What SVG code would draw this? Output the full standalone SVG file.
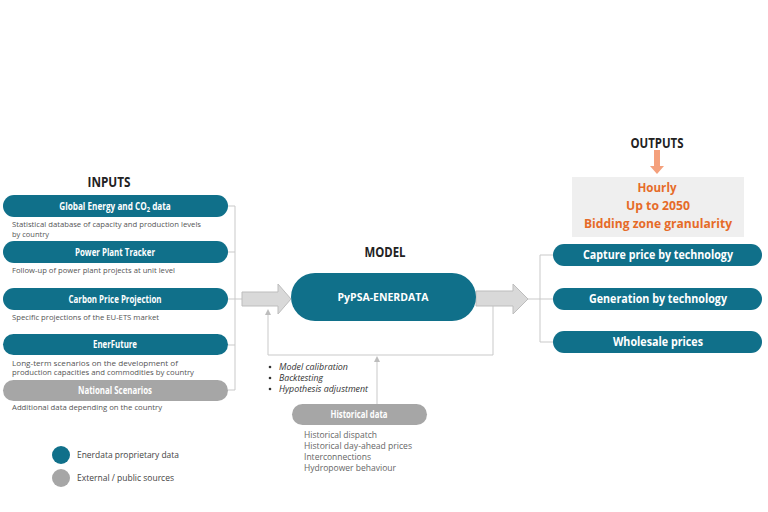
<svg xmlns="http://www.w3.org/2000/svg" width="768" height="512" viewBox="0 0 768 512">
<style>
text{font-family:"Open Sans","Liberation Sans",sans-serif}
.teal{fill:#10708a}
.grey{fill:#a6a6a6}
.pt{fill:#fff;font-weight:700;font-size:10px;text-anchor:middle}
.ot{fill:#fff;font-weight:700;font-size:13px;text-anchor:middle}
.desc{fill:#555;font-size:7.5px}
.h{fill:#222;font-weight:700;font-size:14px;text-anchor:middle}
.or{fill:#e66b28;font-weight:700;font-size:13px;text-anchor:middle}
.bul{fill:#333;font-size:8.5px;font-style:italic}
.hist{fill:#666;font-size:8.5px}
.leg{fill:#444;font-size:8.5px}
.ln{fill:none;stroke:#c9c9c9;stroke-width:1}
.big{fill:#d9d9d9;stroke:#bdbdbd;stroke-width:1}
</style>
<defs>
<marker id="ah" markerWidth="6" markerHeight="6" refX="3" refY="3" orient="auto" markerUnits="userSpaceOnUse">
<path d="M0,0 L6,3 L0,6 z" fill="#bdbdbd"/>
</marker>
</defs>

<rect width="768" height="512" fill="#fff"/>

<text class="h" x="109" y="187" textLength="43" lengthAdjust="spacingAndGlyphs">INPUTS</text>
<text class="h" x="385" y="257" textLength="41" lengthAdjust="spacingAndGlyphs">MODEL</text>
<text class="h" x="657" y="148" textLength="53" lengthAdjust="spacingAndGlyphs">OUTPUTS</text>

<g id="connectors">
<path class="ln" d="M228,206 H235 V390 H228 M228,252 H235 M228,299 H242 M228,345 H235"/>
<path class="ln" d="M528,299 H540 M553,255 H540 V342 H553 M540,299 H553"/>
<path class="ln" d="M493,305 V355 H268 V312" marker-end="url(#ah)"/>
<path class="ln" d="M377,404 V359" marker-end="url(#ah)"/>
<path class="big" d="M242,292 H278 V284 L291,299 L278,314 V306 H242 z"/>
<path class="big" d="M476,291 H513 V284 L528,299 L513,314 V306 H476 z"/>
<path d="M654,150 H660 V166 H664 L657,174 L650,166 H654 z" fill="#f4a07c"/>
</g>

<g id="in-global">
<rect class="teal" x="3" y="195" width="225" height="22" rx="11"/>
<text class="pt" transform="translate(115,210) scale(0.82,1)">Global Energy and CO<tspan font-size="7" dy="2">2</tspan><tspan dy="-2"> data</tspan></text>
<text class="desc" x="12" y="227" textLength="189" lengthAdjust="spacingAndGlyphs">Statistical database of capacity and production levels</text>
<text class="desc" x="12" y="237" textLength="37" lengthAdjust="spacingAndGlyphs">by country</text>
</g>
<g id="in-ppt">
<rect class="teal" x="3" y="241" width="225" height="22" rx="11"/>
<text class="pt" x="115" y="256" textLength="80" lengthAdjust="spacingAndGlyphs">Power Plant Tracker</text>
<text class="desc" x="12" y="273" textLength="163" lengthAdjust="spacingAndGlyphs">Follow-up of power plant projects at unit level</text>
</g>
<g id="in-carbon">
<rect class="teal" x="3" y="288" width="225" height="22" rx="11"/>
<text class="pt" x="115" y="303" textLength="93" lengthAdjust="spacingAndGlyphs">Carbon Price Projection</text>
<text class="desc" x="12" y="320" textLength="147" lengthAdjust="spacingAndGlyphs">Specific projections of the EU-ETS market</text>
</g>
<g id="in-enerfuture">
<rect class="teal" x="3" y="334" width="225" height="21" rx="10.5"/>
<text class="pt" x="115" y="348" textLength="44" lengthAdjust="spacingAndGlyphs">EnerFuture</text>
<text class="desc" x="12" y="365.5" textLength="166" lengthAdjust="spacingAndGlyphs">Long-term scenarios on the development of</text>
<text class="desc" x="12" y="375" textLength="182" lengthAdjust="spacingAndGlyphs">production capacities and commodities by country</text>
</g>
<g id="in-national">
<rect class="grey" x="3" y="380" width="225" height="21" rx="10.5"/>
<text class="pt" x="115" y="394" textLength="74" lengthAdjust="spacingAndGlyphs">National Scenarios</text>
<text class="desc" x="12" y="410" textLength="150" lengthAdjust="spacingAndGlyphs">Additional data depending on the country</text>
</g>

<g id="model">
<rect class="teal" x="291" y="273" width="185" height="48" rx="24"/>
<text class="pt" x="383" y="301" font-size="11.5" textLength="91" lengthAdjust="spacingAndGlyphs">PyPSA-ENERDATA</text>
</g>

<g id="feedback">
<circle cx="270" cy="367" r="1.3" fill="#333"/>
<circle cx="270" cy="378" r="1.3" fill="#333"/>
<circle cx="270" cy="389" r="1.3" fill="#333"/>
<text class="bul" x="279" y="370" textLength="69" lengthAdjust="spacingAndGlyphs">Model calibration</text>
<text class="bul" x="279" y="381" textLength="44" lengthAdjust="spacingAndGlyphs">Backtesting</text>
<text class="bul" x="279" y="392" textLength="89" lengthAdjust="spacingAndGlyphs">Hypothesis adjustment</text>
</g>

<g id="historical">
<rect class="grey" x="292" y="404" width="135" height="21" rx="10.5"/>
<text class="pt" x="359" y="418" textLength="57" lengthAdjust="spacingAndGlyphs">Historical data</text>
<text class="hist" x="304" y="438" textLength="73" lengthAdjust="spacingAndGlyphs">Historical dispatch</text>
<text class="hist" x="304" y="449" textLength="108" lengthAdjust="spacingAndGlyphs">Historical day-ahead prices</text>
<text class="hist" x="304" y="459.5" textLength="67" lengthAdjust="spacingAndGlyphs">Interconnections</text>
<text class="hist" x="304" y="470.5" textLength="92" lengthAdjust="spacingAndGlyphs">Hydropower behaviour</text>
</g>

<g id="out-specs">
<rect x="572" y="177" width="172" height="60" fill="#efefef"/>
<text class="or" x="657" y="192" textLength="39" lengthAdjust="spacingAndGlyphs">Hourly</text>
<text class="or" x="658" y="210" textLength="64" lengthAdjust="spacingAndGlyphs">Up to 2050</text>
<text class="or" x="658" y="228" textLength="148" lengthAdjust="spacingAndGlyphs">Bidding zone granularity</text>
</g>
<g id="out-capture">
<rect class="teal" x="553" y="244" width="209" height="22" rx="11"/>
<text class="ot" x="658" y="259" textLength="150" lengthAdjust="spacingAndGlyphs">Capture price by technology</text>
</g>
<g id="out-generation">
<rect class="teal" x="553" y="288" width="209" height="22" rx="11"/>
<text class="ot" x="658" y="303" textLength="138" lengthAdjust="spacingAndGlyphs">Generation by technology</text>
</g>
<g id="out-wholesale">
<rect class="teal" x="553" y="331" width="209" height="22" rx="11"/>
<text class="ot" x="658" y="346" textLength="90" lengthAdjust="spacingAndGlyphs">Wholesale prices</text>
</g>

<g id="legend">
<circle class="teal" cx="61" cy="455" r="9"/>
<circle class="grey" cx="61" cy="478" r="9"/>
<text class="leg" x="77" y="458" textLength="102" lengthAdjust="spacingAndGlyphs">Enerdata proprietary data</text>
<text class="leg" x="77" y="481" textLength="97" lengthAdjust="spacingAndGlyphs">External / public sources</text>
</g>
</svg>
